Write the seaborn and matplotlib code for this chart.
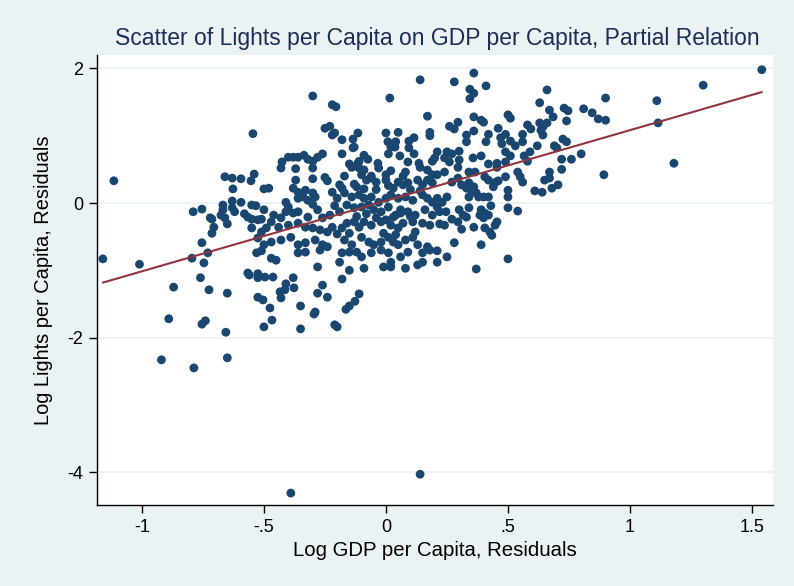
import matplotlib
matplotlib.use("Agg")
import matplotlib.pyplot as plt
import seaborn as sns
import numpy as np
import pandas as pd

# ---- data ----
gdp_resid = [
    # upper left / upper centre
    -0.545, -0.30, -0.22, -0.205, 0.016, 0.14, 0.17,
    -0.25, -0.23, -0.22, -0.21, -0.18, -0.135, -0.115, -0.135, -0.13, -0.18, -0.09, -0.074, -0.11,
    0.0, 0.05, 0.008, 0.04, 0.02, 0.037, 0.01, 0.057, 0.094, 0.115, 0.094, 0.115, 0.09, 0.135,
    0.18, 0.18, 0.19, 0.20,
    -0.426, -0.40, -0.38, -0.36, -0.336, -0.32, -0.30, -0.28, -0.26, -0.033, -0.15, -0.115,
    # upper right
    0.28, 0.36, 0.41, 0.344, 0.36, 0.344, 0.66, 0.63, 0.67, 0.73, 0.746, 0.81, 0.845, 0.87, 0.90,
    0.36, 0.39, 0.40, 0.50, 0.51, 0.685, 0.74, 0.26, 0.28, 0.295, 0.36, 0.33, 0.42, 0.46, 0.47,
    0.49, 0.58, 0.594, 0.56, 0.63, 0.643, 0.66, 0.635, 0.643, 0.33, 0.41, 0.475, 0.51, 0.53,
    0.56, 0.62, 0.69, 0.70, 0.725, 0.74, 0.80, 0.72, 0.76, 0.59, 0.566, 0.49, 0.51, 0.39, 0.357,
    0.30, 0.21, 0.25, 0.27, 0.24, 0.26, 0.30, 0.42, 0.455, 0.49, 0.58,
    # far right
    1.54, 1.30, 1.11, 0.90, 1.115, 1.18,
    # left middle
    -1.115, -1.16, -1.01, -0.66, -0.63, -0.594, -0.553, -0.54, -0.627, -0.79, -0.754, -0.72,
    -0.713, -0.705, -0.713, -0.668, -0.668, -0.676, -0.66, -0.63, -0.63, -0.62, -0.594, -0.58,
    -0.566, -0.55, -0.525, -0.51, -0.55, -0.533, -0.65, -0.55, -0.525, -0.51, -0.754, -0.795,
    -0.73, -0.746, -0.53, -0.51, -0.50, -0.566, -0.525, -0.50,
    # lower left
    -0.87, -0.76, -0.725, -0.65, -0.56, -0.525, -0.525, -0.504, -0.89, -0.754, -0.74, -0.656,
    -0.50, -0.92, -0.787, -0.65,
    # lower centre
    -0.496, -0.463, -0.38, -0.41, -0.434, -0.414, -0.377, -0.43, -0.475, -0.467, -0.35, -0.35,
    -0.26, -0.28, -0.24, -0.18, -0.29, -0.295, -0.21, -0.20, -0.11, -0.127, -0.15, -0.164,
    # right middle
    0.893, 0.72, 0.67, 0.65, 0.67, 0.68, 0.705, 0.61, 0.64, 0.54, 0.55, 0.56, 0.49, 0.45, 0.46,
    0.44, 0.50, 0.50, 0.50, 0.54, 0.43, 0.39, 0.385, 0.405, 0.42, 0.40, 0.455, 0.447, 0.405,
    0.426, 0.434, 0.36, 0.31, 0.295, 0.27, 0.24, 0.22, 0.246, 0.30, 0.316, 0.33, 0.34, 0.28,
    0.39, 0.21, 0.25, 0.21, 0.50, 0.37,
    0.31, 0.33, 0.34, 0.35, 0.36, 0.37, 0.34, 0.38, 0.40, 0.42,
    0.21, 0.24, 0.27, 0.295, 0.21, 0.23, 0.25, 0.21, 0.22, 0.34, 0.365, 0.405, 0.42, 0.455, 0.295,
    # dense centre
    -0.43, -0.37, -0.30, -0.14, -0.11, -0.09, -0.03, 0.02, 0.08, 0.14, 0.17, 0.19,
    -0.37, -0.30, -0.24, -0.19, -0.18, -0.13, -0.09, -0.08, -0.06, -0.04, 0.00, 0.05, 0.07, 0.09,
    0.13, 0.15, 0.17, 0.19,
    -0.48, -0.38, -0.36, -0.33, -0.30, -0.29, -0.34, -0.36, -0.32,
    -0.22, -0.20, -0.17, -0.14, -0.11, -0.09, -0.06, -0.03, 0.00, 0.02, 0.05, 0.08, 0.11, 0.15,
    0.17, 0.19,
    -0.41, -0.40, -0.41, -0.38, -0.36, -0.32, -0.28, -0.26, -0.23, -0.19, -0.16, -0.13, -0.10,
    -0.07, -0.05, -0.02, 0.01, 0.04, 0.06, 0.09, 0.12, 0.16, 0.19,
    -0.50, -0.46, -0.43, -0.47, -0.49, -0.44, -0.40, -0.36, -0.33, -0.30, -0.27, -0.24, -0.22,
    -0.18, -0.16, -0.13, -0.11, -0.09, -0.06, -0.02, 0.00, 0.02, 0.05, 0.07, 0.11, 0.15, 0.18,
    -0.47, -0.43, -0.39, -0.36, -0.33, -0.29, -0.26, -0.24, -0.17, -0.14, -0.10, -0.07, -0.05,
    -0.02, 0.01, 0.03, 0.05, 0.08, 0.11, 0.13, 0.17,
    -0.47, -0.36, -0.33, -0.27, -0.18, -0.15, -0.12, -0.10, -0.06, -0.02, 0.01, 0.02, 0.06,
    0.09, 0.15, 0.18,
    -0.45, -0.28, -0.19, -0.15, -0.09, -0.01, 0.02, 0.08, 0.13, 0.15,
    # extra points filling the packed core
    -0.12, -0.08, -0.04, 0.03, 0.06, 0.10, -0.20, -0.15, -0.01, 0.04, 0.12, -0.25, -0.06,
    0.00, 0.07, -0.17, -0.10, 0.03, 0.10, -0.30, -0.21, -0.04, 0.14, -0.12, 0.01,
    # outliers at the bottom
    -0.39, 0.14,
]

lights_resid = [
    # upper left / upper centre
    1.03, 1.59, 1.46, 1.43, 1.56, 1.83, 1.29,
    1.11, 1.14, 1.01, 1.04, 0.94, 0.95, 1.04, 0.82, 0.83, 0.73, 0.71, 0.65, 0.62,
    1.04, 1.05, 0.91, 0.91, 0.83, 0.83, 0.73, 0.70, 0.92, 0.97, 0.82, 0.73, 0.61, 0.59,
    1.05, 1.00, 0.62, 0.67,
    0.61, 0.68, 0.68, 0.68, 0.71, 0.65, 0.62, 0.68, 0.73, 0.59, 0.58, 0.59,
    # upper right
    1.80, 1.93, 1.74, 1.69, 1.63, 1.55, 1.68, 1.49, 1.38, 1.41, 1.37, 1.40, 1.34, 1.25, 1.56,
    1.28, 1.23, 1.20, 1.31, 1.26, 1.28, 1.22, 1.14, 1.10, 1.20, 1.07, 1.01, 1.02, 1.11, 0.97,
    1.02, 1.16, 1.10, 1.02, 1.19, 1.13, 1.19, 1.08, 1.01, 0.91, 0.91, 0.88, 0.92, 0.85,
    0.91, 0.85, 0.85, 0.82, 0.95, 0.91, 0.73, 0.65, 0.65, 0.76, 0.70, 0.76, 0.70, 0.70, 0.67,
    0.77, 0.76, 0.76, 0.73, 0.67, 0.61, 0.64, 0.58, 0.59, 0.61, 0.62,
    # far right
    1.98, 1.75, 1.52, 1.23, 1.19, 0.59,
    # left middle
    0.33, -0.83, -0.91, 0.39, 0.37, 0.36, 0.33, 0.43, 0.21, -0.13, -0.09, -0.22,
    -0.24, -0.36, -0.45, -0.03, -0.10, -0.18, -0.22, 0.03, -0.07, -0.13, 0.01, -0.16,
    -0.21, -0.24, -0.25, -0.24, -0.03, -0.04, -0.31, -0.37, -0.52, -0.43, -0.59, -0.82,
    -0.74, -0.89, -0.74, -0.71, -0.62, -1.04, -1.05, 0.21,
    # lower left
    -1.25, -1.11, -1.29, -1.34, -1.07, -1.11, -1.40, -1.44, -1.72, -1.80, -1.75, -1.92,
    -1.84, -2.33, -2.45, -2.30,
    # lower centre
    -1.10, -1.10, -1.11, -1.20, -1.32, -1.29, -1.26, -1.41, -1.56, -1.74, -1.53, -1.87,
    -1.22, -1.34, -1.40, -1.13, -1.62, -1.65, -1.81, -1.84, -1.35, -1.46, -1.53, -1.58,
    # right middle
    0.42, 0.50, 0.46, 0.34, 0.37, 0.22, 0.27, 0.18, 0.16, 0.46, 0.39, 0.31, 0.39, 0.31, 0.33,
    0.24, 0.19, 0.09, -0.07, -0.12, -0.04, -0.10, -0.18, -0.15, -0.18, -0.22, -0.28, -0.33, -0.37,
    -0.43, -0.48, -0.36, -0.39, -0.28, -0.24, -0.33, -0.31, -0.13, -0.10, -0.18, -0.21, -0.07, -0.59,
    -0.62, -0.71, -0.80, -0.88, -0.83, -0.98,
    0.27, 0.22, 0.30, 0.19, 0.24, 0.15, 0.09, 0.09, 0.09, 0.09,
    0.42, 0.46, 0.31, 0.37, 0.07, 0.01, 0.09, -0.06, -0.13, 0.46, 0.46, 0.39, 0.34, 0.53, 0.53,
    # dense centre
    0.52, 0.51, 0.52, 0.53, 0.52, 0.49, 0.52, 0.48, 0.46, 0.53, 0.49, 0.42,
    0.34, 0.36, 0.33, 0.27, 0.22, 0.28, 0.21, 0.34, 0.37, 0.31, 0.34, 0.31, 0.27, 0.30,
    0.34, 0.27, 0.34, 0.30,
    0.22, 0.22, 0.16, 0.19, 0.15, 0.09, 0.09, 0.07, 0.04,
    0.16, 0.07, 0.15, 0.09, 0.12, 0.07, 0.09, 0.01, 0.07, 0.12, 0.07, 0.09, 0.04, 0.12,
    0.07, 0.01,
    0.01, -0.06, -0.13, -0.15, -0.13, -0.21, -0.10, -0.22, -0.18, -0.13, -0.03, -0.07, -0.06,
    -0.03, -0.10, -0.13, -0.06, -0.18, -0.10, -0.13, -0.18, -0.10, -0.18,
    -0.10, -0.18, -0.22, -0.28, -0.37, -0.36, -0.33, -0.30, -0.36, -0.37, -0.40, -0.43, -0.36,
    -0.37, -0.30, -0.28, -0.36, -0.28, -0.33, -0.28, -0.25, -0.33, -0.37, -0.30, -0.28, -0.30, -0.33,
    -0.58, -0.55, -0.51, -0.62, -0.59, -0.55, -0.62, -0.65, -0.55, -0.62, -0.51, -0.58, -0.62,
    -0.58, -0.51, -0.58, -0.62, -0.55, -0.51, -0.62, -0.65,
    -0.82, -0.74, -0.73, -0.70, -0.74, -0.73, -0.73, -0.80, -0.74, -0.70, -0.74, -0.88, -0.80,
    -0.73, -0.74, -0.70,
    -0.85, -0.95, -0.88, -1.00, -0.97, -0.95, -0.95, -0.97, -0.92, -0.88,
    # extra points filling the packed core
    -0.20, -0.16, -0.22, -0.21, -0.15, -0.20, -0.46, -0.45, -0.45, -0.47, -0.43, 0.38, 0.40,
    0.42, 0.40, 0.40, 0.42, 0.22, 0.20, -0.02, -0.04, 0.20, 0.18, 0.24, 0.26,
    # outliers at the bottom
    -4.31, -4.03,
]

x_ticks = [-1, -0.5, 0, 0.5, 1, 1.5]
x_tick_labels = ["-1", "-.5", "0", ".5", "1", "1.5"]
y_ticks = [-4, -2, 0, 2]
y_tick_labels = ["-4", "-2", "0", "2"]

title = "Scatter of Lights per Capita on GDP per Capita, Partial Relation"
x_label = "Log GDP per Capita, Residuals"
y_label = "Log Lights per Capita, Residuals"

df = pd.DataFrame({"gdp": gdp_resid, "lights": lights_resid})

# ---- style ----
bg = "#EAF2F3"
marker_col = "#1A476F"
line_col = "#90353B"

sns.set_theme(style="white")
plt.rcParams["font.family"] = ["Liberation Sans", "DejaVu Sans"]

fig = plt.figure(figsize=(7.94, 5.86), dpi=100, facecolor=bg)
ax = fig.add_axes([97 / 794, 1 - 505 / 586, (773 - 97) / 794, (505 - 55) / 586])
ax.set_facecolor("white")

ax.set_axisbelow(True)
for yt in y_ticks:
    ax.axhline(yt, color=bg, lw=1.3, zorder=0)

sns.scatterplot(data=df, x="gdp", y="lights", ax=ax, color=marker_col,
                s=40, edgecolor="none", linewidth=0, zorder=3)
sns.regplot(data=df, x="gdp", y="lights", ax=ax, scatter=False, ci=None,
            line_kws={"color": line_col, "lw": 1.5, "zorder": 4})

ax.set_xlim(-1.184, 1.586)
ax.set_ylim(-4.487, 2.199)
ax.set_xticks(x_ticks)
ax.set_xticklabels(x_tick_labels)
ax.set_yticks(y_ticks)
ax.set_yticklabels(y_tick_labels)
ax.tick_params(axis="both", which="both", direction="out", length=6, width=1,
               color="black", labelsize=13, labelcolor="black", pad=4,
               bottom=True, left=True)

for side in ["top", "right"]:
    ax.spines[side].set_visible(False)
for side in ["left", "bottom"]:
    ax.spines[side].set_color("black")
    ax.spines[side].set_linewidth(1)

ax.set_xlabel(x_label, fontsize=14.7, color="black", labelpad=4)
ax.set_ylabel(y_label, fontsize=14.4, color="black", labelpad=10)
fig.text((113 + 762) / 2 / 794, 1 - 38 / 586, title, ha="center", va="center",
         fontsize=16.5, color="#1E2D58")

fig.savefig("out.png", dpi=100, facecolor=bg)
